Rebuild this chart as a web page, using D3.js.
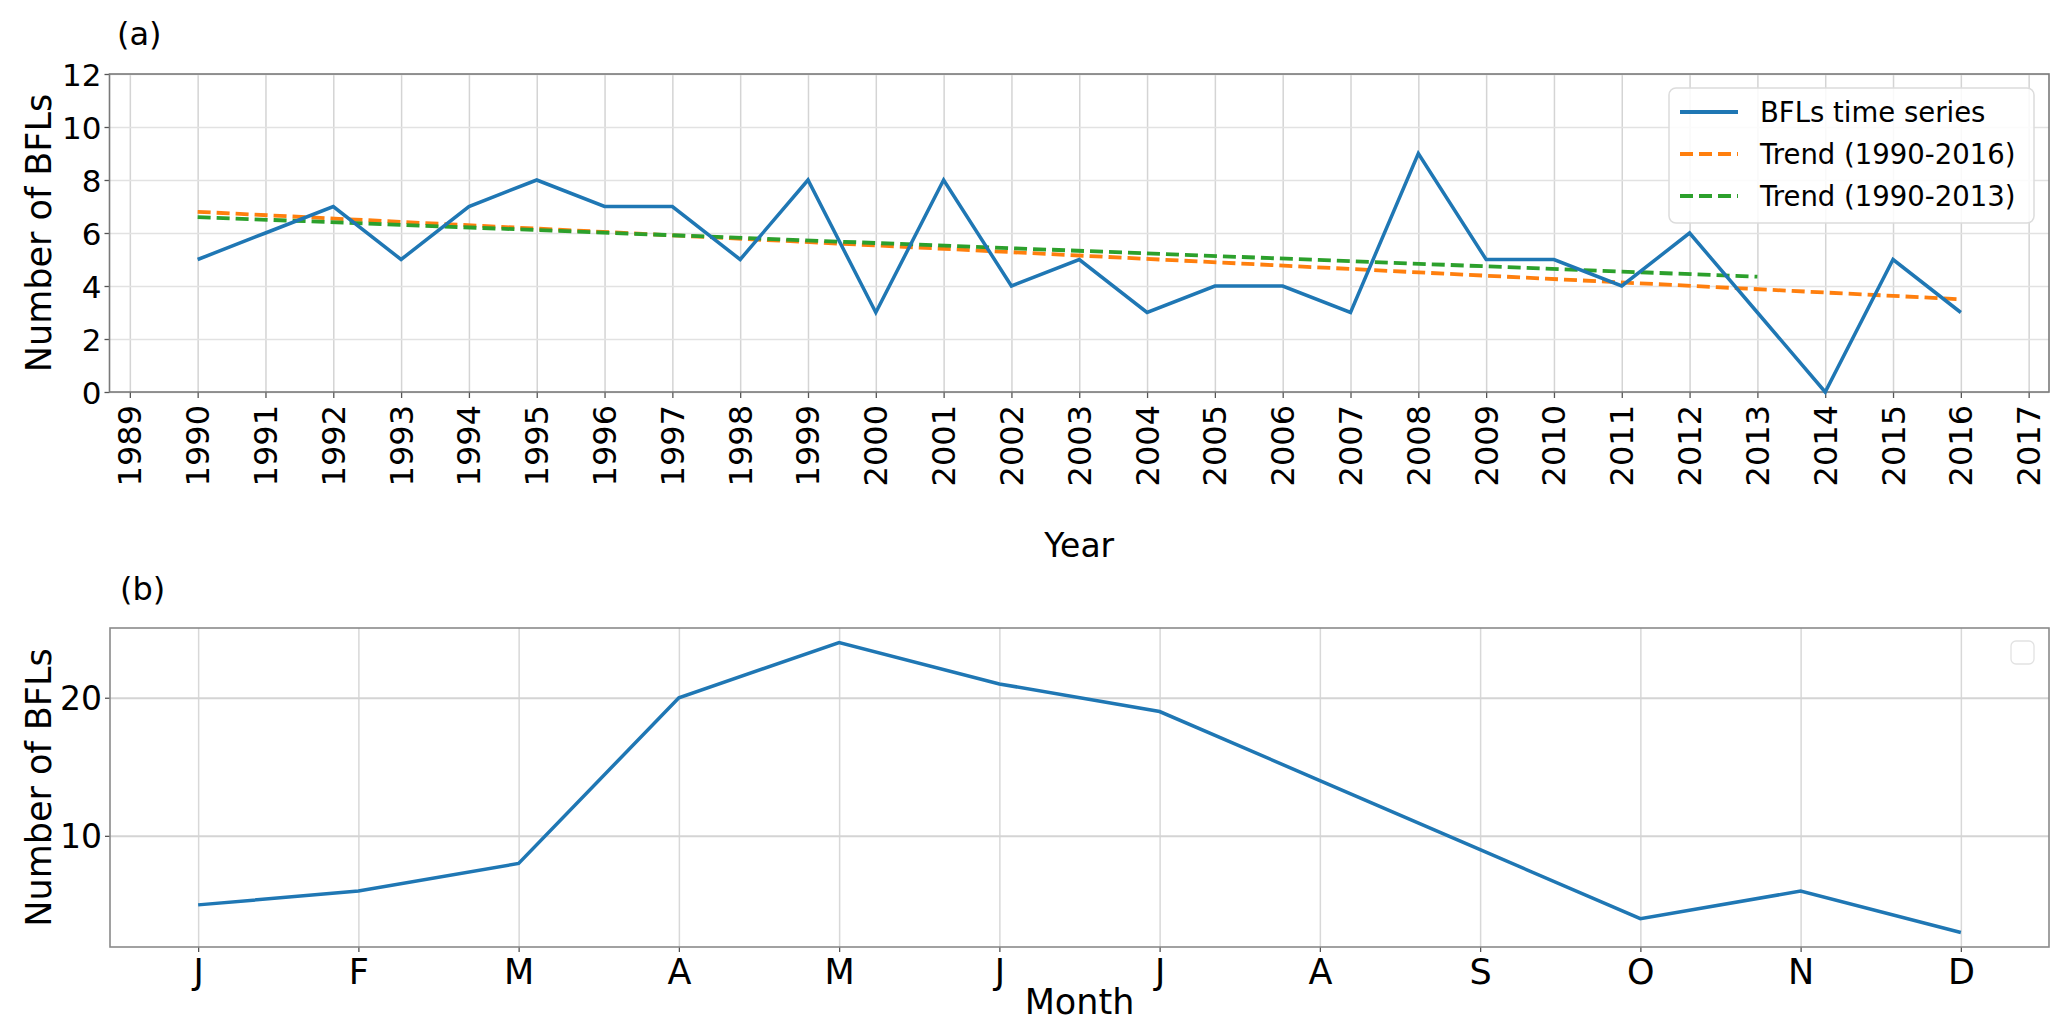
<!DOCTYPE html>
<html>
<head>
<meta charset="utf-8">
<script src="https://cdn.jsdelivr.net/npm/d3@7"></script>
<style>
  body { margin: 0; background: #fff; }
  svg { display: block; }
  text { font-family: "DejaVu Sans", sans-serif; fill: #000; }
</style>
</head>
<body>
<div id="chart"></div>
<script>
// panel (a): yearly counts
var years = [1990, 1991, 1992, 1993, 1994, 1995, 1996, 1997, 1998, 1999, 2000, 2001, 2002, 2003,
             2004, 2005, 2006, 2007, 2008, 2009, 2010, 2011, 2012, 2013, 2014, 2015, 2016];
var counts = [5, 6, 7, 5, 7, 8, 7, 7, 5, 8, 3, 8, 4, 5, 3, 4, 4, 3, 9, 5, 5, 4, 6, 3, 0, 5, 3];
var yearTicks = [1989, 1990, 1991, 1992, 1993, 1994, 1995, 1996, 1997, 1998, 1999, 2000, 2001, 2002, 2003,
                 2004, 2005, 2006, 2007, 2008, 2009, 2010, 2011, 2012, 2013, 2014, 2015, 2016, 2017];
var countTicks = [0, 2, 4, 6, 8, 10, 12];

// trend lines (end points)
var trendAllYears = [1990, 2016];
var trendAllValues = [6.8, 3.5];
var trendEarlyYears = [1990, 2013];
var trendEarlyValues = [6.6, 4.35];

// panel (b): monthly counts
var months = ["J", "F", "M", "A", "M", "J", "J", "A", "S", "O", "N", "D"];
var monthNums = [1, 2, 3, 4, 5, 6, 7, 8, 9, 10, 11, 12];
var monthCounts = [5, 6, 8, 20, 24, 21, 19, 14, 9, 4, 6, 3];
var monthCountTicks = [10, 20];

var width = 2067, height = 1036;
var blue = "#1f77b4", orange = "#ff7f0e", green = "#2ca02c";

var svg = d3.select("#chart").append("svg")
    .attr("width", width)
    .attr("height", height);

// ---------- panel (a) ----------
var ax = { left: 109.5, right: 2049, top: 74, bottom: 392 };

var x = d3.scaleLinear().domain([1988.7, 2017.3]).range([ax.left, ax.right]);
var y = d3.scaleLinear().domain([0, 12]).range([ax.bottom, ax.top]);

var gA = svg.append("g");

// grid
gA.append("g")
    .attr("transform", "translate(0," + ax.bottom + ")")
    .call(d3.axisBottom(x).tickValues(yearTicks).tickSize(-(ax.bottom - ax.top)).tickFormat(""))
    .call(function(g) { g.select(".domain").remove(); })
    .selectAll("line").attr("stroke", "#d4d4d4").attr("stroke-width", 1.5);
gA.append("g")
    .attr("transform", "translate(" + ax.left + ",0)")
    .call(d3.axisLeft(y).tickValues(countTicks).tickSize(-(ax.right - ax.left)).tickFormat(""))
    .call(function(g) { g.select(".domain").remove(); })
    .selectAll("line").attr("stroke", "#e2e2e2").attr("stroke-width", 1.5);

// axes
var xAxisA = gA.append("g")
    .attr("transform", "translate(0," + ax.bottom + ")")
    .call(d3.axisBottom(x).tickValues(yearTicks).tickSize(6).tickPadding(8).tickFormat(d3.format("d")));
xAxisA.select(".domain").remove();
xAxisA.selectAll("line").attr("stroke", "#555").attr("stroke-width", 1.3);
xAxisA.selectAll("text")
    .attr("font-size", 32)
    .attr("font-family", "DejaVu Sans")
    .attr("fill", "#000")
    .attr("y", 0).attr("dy", null)
    .attr("transform", "translate(0,13) rotate(-90)")
    .attr("text-anchor", "end")
    .attr("dominant-baseline", "central");

var yAxisA = gA.append("g")
    .attr("transform", "translate(" + ax.left + ",0)")
    .call(d3.axisLeft(y).tickValues(countTicks).tickSize(5).tickPadding(3));
yAxisA.select(".domain").remove();
yAxisA.selectAll("line").attr("stroke", "#555").attr("stroke-width", 1.3);
yAxisA.selectAll("text")
    .attr("font-size", 31)
    .attr("font-family", "DejaVu Sans")
    .attr("fill", "#000")
    .attr("dy", "0.36em");

gA.append("rect")
    .attr("x", ax.left).attr("y", ax.top)
    .attr("width", ax.right - ax.left).attr("height", ax.bottom - ax.top)
    .attr("fill", "none").attr("stroke", "#7a7a7a").attr("stroke-width", 1.6);

var lineA = d3.line()
    .x(function(d) { return x(d[0]); })
    .y(function(d) { return y(d[1]); });

gA.append("path")
    .datum(d3.zip(trendAllYears, trendAllValues))
    .attr("d", lineA)
    .attr("fill", "none").attr("stroke", orange).attr("stroke-width", 3.8)
    .attr("stroke-dasharray", "13,6");
gA.append("path")
    .datum(d3.zip(trendEarlyYears, trendEarlyValues))
    .attr("d", lineA)
    .attr("fill", "none").attr("stroke", green).attr("stroke-width", 3.8)
    .attr("stroke-dasharray", "13,6");
gA.append("path")
    .datum(d3.zip(years, counts))
    .attr("d", lineA)
    .attr("fill", "none").attr("stroke", blue).attr("stroke-width", 3.5)
    .attr("stroke-linejoin", "miter");

// legend
var leg = gA.append("g");
leg.append("rect")
    .attr("x", 1669).attr("y", 88).attr("width", 365).attr("height", 135).attr("rx", 7)
    .attr("fill", "#fff").attr("fill-opacity", 0.85)
    .attr("stroke", "#dcdcdc").attr("stroke-width", 1.5);
var legItems = [
    { label: "BFLs time series", color: blue, dash: null },
    { label: "Trend (1990-2016)", color: orange, dash: "13,6" },
    { label: "Trend (1990-2013)", color: green, dash: "13,6" }
];
legItems.forEach(function(d, i) {
    var yy = 112 + i * 42;
    leg.append("line")
        .attr("x1", 1680).attr("x2", 1738).attr("y1", yy).attr("y2", yy)
        .attr("stroke", d.color).attr("stroke-width", 3.8)
        .attr("stroke-dasharray", d.dash);
    leg.append("text")
        .attr("x", 1760).attr("y", yy).attr("dy", "0.36em")
        .attr("font-size", 27.5)
        .text(d.label);
});

gA.append("text")
    .attr("x", 117).attr("y", 45)
    .attr("font-size", 32)
    .text("(a)");

gA.append("text")
    .attr("transform", "translate(51," + ((ax.top + ax.bottom) / 2) + ") rotate(-90)")
    .attr("text-anchor", "middle")
    .attr("font-size", 35)
    .text("Number of BFLs");

gA.append("text")
    .attr("x", (ax.left + ax.right) / 2).attr("y", 557)
    .attr("text-anchor", "middle")
    .attr("font-size", 33)
    .text("Year");

// ---------- panel (b) ----------
var bx = { left: 110, right: 2049, top: 628, bottom: 947 };

var xm = d3.scaleLinear().domain([0.45, 12.55]).range([bx.left, bx.right]);
var ym = d3.scaleLinear().domain([1.95, 25.05]).range([bx.bottom, bx.top]);

var gB = svg.append("g");

gB.append("g")
    .attr("transform", "translate(0," + bx.bottom + ")")
    .call(d3.axisBottom(xm).tickValues(monthNums).tickSize(-(bx.bottom - bx.top)).tickFormat(""))
    .call(function(g) { g.select(".domain").remove(); })
    .selectAll("line").attr("stroke", "#d8d8d8").attr("stroke-width", 1.5);
gB.append("g")
    .attr("transform", "translate(" + bx.left + ",0)")
    .call(d3.axisLeft(ym).tickValues(monthCountTicks).tickSize(-(bx.right - bx.left)).tickFormat(""))
    .call(function(g) { g.select(".domain").remove(); })
    .selectAll("line").attr("stroke", "#d4d4d4").attr("stroke-width", 2);

var xAxisB = gB.append("g")
    .attr("transform", "translate(0," + bx.bottom + ")")
    .call(d3.axisBottom(xm).tickValues(monthNums).tickSize(5).tickPadding(7)
        .tickFormat(function(d, i) { return months[i]; }));
xAxisB.select(".domain").remove();
xAxisB.selectAll("line").attr("stroke", "#555").attr("stroke-width", 1.3);
xAxisB.selectAll("text")
    .attr("font-size", 35)
    .attr("font-family", "Open Sans")
    .attr("font-weight", 500)
    .attr("fill", "#000")
    .attr("dy", "0.72em");

var yAxisB = gB.append("g")
    .attr("transform", "translate(" + bx.left + ",0)")
    .call(d3.axisLeft(ym).tickValues(monthCountTicks).tickSize(5).tickPadding(3));
yAxisB.select(".domain").remove();
yAxisB.selectAll("line").attr("stroke", "#555").attr("stroke-width", 1.3);
yAxisB.selectAll("text")
    .attr("font-size", 33)
    .attr("font-family", "DejaVu Sans")
    .attr("fill", "#000")
    .attr("dy", "0.36em");

gB.append("rect")
    .attr("x", bx.left).attr("y", bx.top)
    .attr("width", bx.right - bx.left).attr("height", bx.bottom - bx.top)
    .attr("fill", "none").attr("stroke", "#8a8a8a").attr("stroke-width", 1.6);

var lineB = d3.line()
    .x(function(d) { return xm(d[0]); })
    .y(function(d) { return ym(d[1]); });

gB.append("path")
    .datum(d3.zip(monthNums, monthCounts))
    .attr("d", lineB)
    .attr("fill", "none").attr("stroke", blue).attr("stroke-width", 3.5);

// empty legend box
gB.append("rect")
    .attr("x", 2011).attr("y", 641).attr("width", 23).attr("height", 23).attr("rx", 5)
    .attr("fill", "#fff").attr("stroke", "#e2e2e2").attr("stroke-width", 1.3);

gB.append("text")
    .attr("x", 120).attr("y", 600)
    .attr("font-size", 32)
    .text("(b)");

gB.append("text")
    .attr("transform", "translate(51," + ((bx.top + bx.bottom) / 2) + ") rotate(-90)")
    .attr("text-anchor", "middle")
    .attr("font-size", 35)
    .text("Number of BFLs");

gB.append("text")
    .attr("x", (bx.left + bx.right) / 2).attr("y", 1014)
    .attr("text-anchor", "middle")
    .attr("font-size", 35)
    .attr("font-family", "Open Sans")
    .text("Month");
</script>
</body>
</html>
